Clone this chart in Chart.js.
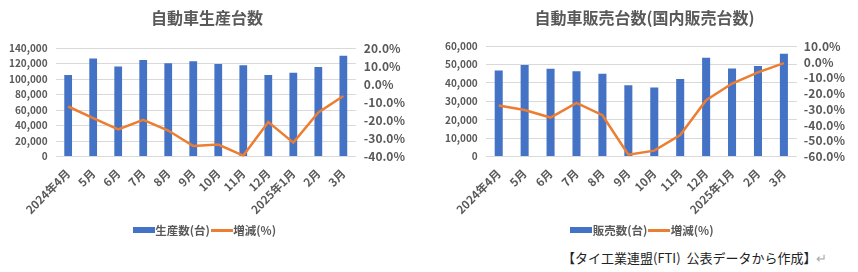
<!DOCTYPE html>
<html><head><meta charset="utf-8">
<script src="https://cdn.jsdelivr.net/npm/chart.js@4"></script>
<style>
html,body{margin:0;padding:0;background:#fff;width:858px;height:272px;overflow:hidden;font-family:"Noto Sans CJK JP",sans-serif;}
.box{position:absolute;top:0;}
#note{position:absolute;left:562px;top:249px;font-size:13px;line-height:18px;color:#222;white-space:nowrap;}
#note span{color:#aaa;}
</style></head><body>
<div class="box" style="left:0;width:429px;height:246px;"><canvas id="c1" width="429" height="246"></canvas></div>
<div class="box" style="left:429px;width:429px;height:246px;"><canvas id="c2" width="429" height="246"></canvas></div>
<div id="note">【タイ工業連盟(FTI)&nbsp;&nbsp;公表データから作成】<span>↵</span></div>
<script>
const months = ["2024年4月","5月","6月","7月","8月","9月","10月","11月","12月","2025年1月","2月","3月"];
const production = [105400,126700,116500,124900,120500,123200,119600,117800,105400,108100,115600,130300];
const productionChange = [-12.3,-18.8,-25.0,-19.7,-25.6,-34.2,-33.4,-39.5,-20.9,-32.3,-15.6,-6.5];
const sales = [46750,49780,47700,46370,45050,38800,37480,42200,53750,47890,49200,55840];
const salesChange = [-27.6,-30.5,-35.3,-26.0,-33.8,-58.9,-56.3,-46.4,-24.3,-13.7,-6.6,-0.7];

const BLUE = "#4472C4", ORANGE = "#ED7D31", GRAY = "#595959", GRID = "#D9D9D9";
const FONT = "'Noto Sans CJK JP', sans-serif";

function swatch(color, w, h){
  const c = document.createElement('canvas'); c.width = w; c.height = h;
  const x = c.getContext('2d'); x.fillStyle = color; x.fillRect(0,0,w,h); return c;
}
const barSw = swatch(BLUE, 22, 6), lineSw = swatch(ORANGE, 22, 3);

function make(id, title, barLabel, bars, lineVals, yl, yr, pad, titleGap, legendPad, rPad){
  new Chart(document.getElementById(id), {
    data: {
      labels: months,
      datasets: [
        {type:'line', label:'増減(%)', data:lineVals, yAxisID:'yr', borderColor:ORANGE, backgroundColor:ORANGE,
         borderWidth:2.5, pointRadius:0, tension:0, pointStyle:lineSw, order:0},
        {type:'bar', label:barLabel, data:bars, yAxisID:'yl', backgroundColor:BLUE,
         barPercentage:0.31, categoryPercentage:1, pointStyle:barSw, order:1}
      ]
    },
    options: {
      responsive:false, animation:false,
      layout:{padding:pad},
      plugins:{
        title:{display:true, text:title, color:GRAY, font:{family:FONT, size:16, weight:'bold'}, padding:{top:4,bottom:titleGap}},
        legend:{position:'bottom', reverse:true, labels:{usePointStyle:true, color:GRAY, font:{family:FONT,size:11.5,weight:'bold'}, padding:legendPad}},
        tooltip:{enabled:false}
      },
      scales:{
        x:{offset:true, grid:{display:false}, border:{display:false},
           ticks:{color:GRAY, minRotation:45, maxRotation:45, autoSkip:false, padding:2, font:{family:FONT,size:11.5,weight:'bold'}}},
        yl:{position:'left', min:yl.min, max:yl.max, grid:{color:GRID, lineWidth:1, drawTicks:false}, border:{display:false},
           ticks:{stepSize:yl.step, autoSkip:false, color:GRAY, padding:8, font:{family:FONT,size:10,weight:'bold'},
                  callback:v=>v.toLocaleString('en-US')}},
        yr:{position:'right', min:yr.min, max:yr.max, grid:{display:false, drawTicks:false}, border:{display:false},
           ticks:{stepSize:yr.step, autoSkip:false, color:GRAY, padding:rPad, font:{family:FONT,size:12,weight:'bold'},
                  callback:v=>v.toFixed(1)+'%'}}
      }
    }
  });
}
make('c1','自動車生産台数','生産数(台)',production,productionChange,{min:0,max:140000,step:20000},{min:-40,max:20,step:10},{left:1,right:16,top:4,bottom:0},21,6,8);
make('c2','自動車販売台数(国内販売台数)','販売数(台)',sales,salesChange,{min:0,max:60000,step:10000},{min:-60,max:10,step:10},{left:8,right:6,top:4,bottom:0},19,6,7);
</script>
</body></html>
